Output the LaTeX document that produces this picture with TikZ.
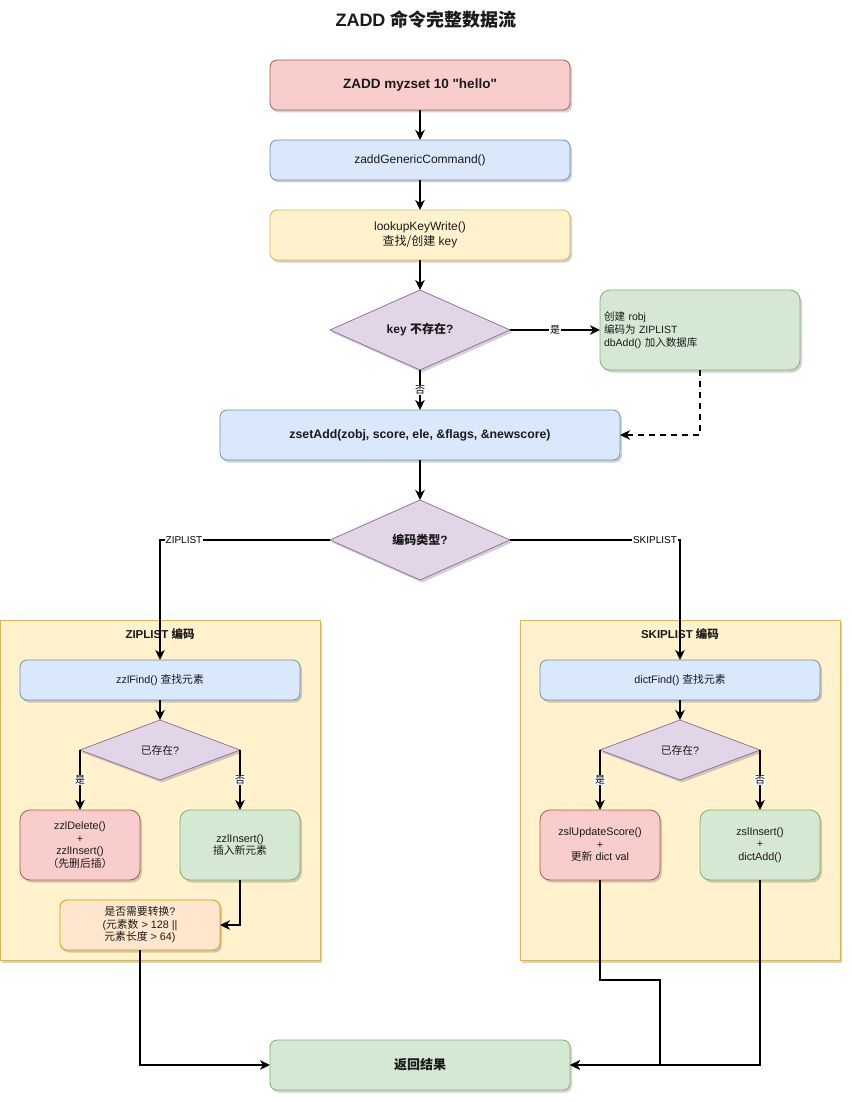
\documentclass[tikz,border=0pt]{standalone}
\usepackage{fontspec}
\setmainfont{Liberation Sans}
\newfontfamily\cjk{Noto Sans CJK SC}
\newcommand\zh[1]{{\cjk #1}}
\usetikzlibrary{arrows.meta,shadows,shapes.geometric}
\definecolor{redF}{HTML}{F8CECC}\definecolor{redS}{HTML}{B85450}
\definecolor{bluF}{HTML}{DAE8FC}\definecolor{bluS}{HTML}{6C8EBF}
\definecolor{yelF}{HTML}{FFF2CC}\definecolor{yelS}{HTML}{D6B656}
\definecolor{purF}{HTML}{E1D5E7}\definecolor{purS}{HTML}{9673A6}
\definecolor{grnF}{HTML}{D5E8D4}\definecolor{grnS}{HTML}{82B366}
\definecolor{orgF}{HTML}{FFE6CC}\definecolor{orgS}{HTML}{D79B00}
\definecolor{txt}{HTML}{1A1A1A}
\begin{document}
\begin{tikzpicture}[x=1pt,y=-1pt,
  shad/.style={drop shadow={shadow xshift=2pt,shadow yshift=-2.5pt,opacity=0.18,fill=black}},
  box/.style={draw, rounded corners=7pt, inner sep=2pt, outer sep=0pt, align=center, line width=0.8pt, text=txt, shad},
  bigtxt/.style={font=\fontsize{12}{14.5}\selectfont},
  smtxt/.style={font=\fontsize{10.8}{12.5}\selectfont},
  red/.style={box, fill=redF, draw=redS},
  blu/.style={box, fill=bluF, draw=bluS},
  yel/.style={box, fill=yelF, draw=yelS},
  grn/.style={box, fill=grnF, draw=grnS},
  org/.style={box, fill=orgF, draw=orgS},
  dia/.style={diamond, draw=purS, fill=purF, line width=0.8pt, inner sep=0pt, outer sep=0pt, align=center, text=txt, shad},
  cont/.style={draw=yelS, fill=yelF, line width=0.8pt, inner sep=0pt, outer sep=0pt, minimum width=320, minimum height=340, shad},
  arr/.style={draw=black, line width=1.9pt, -{Stealth[length=10pt,width=9.5pt,inset=3pt]}},
  lbl/.style={fill=white, inner sep=1pt, font=\fontsize{10}{12}\selectfont, text=black}
]
\useasboundingbox (0,0) rectangle (852,1102);

% title
\node[font=\bfseries\fontsize{18}{21}\selectfont, text=txt] (title) at (426,20) {ZADD \zh{命令完整数据流}};

% main column
\node[red, font=\bfseries\fontsize{13.5}{16}\selectfont, minimum width=300, minimum height=50] (n1) at (420,85) {ZADD myzset 10 \textquotedbl hello\textquotedbl};
\node[blu, bigtxt, minimum width=300, minimum height=40] (n2) at (420,160) {zaddGenericCommand()};
\node[yel, bigtxt, minimum width=300, minimum height=50] (n3) at (420,235) {lookupKeyWrite()\\\zh{查找/创建} key};
\node[dia, font=\bfseries\fontsize{12}{14.5}\selectfont, minimum width=180, minimum height=80] (d1) at (420,330) {key \zh{不存在}?};
\node[grn, font=\fontsize{10.5}{13}\selectfont, align=left, text width=192, inner xsep=4pt, minimum width=200, minimum height=80, rounded corners=10pt] (g1) at (700,330) {\zh{创建} robj\\\zh{编码为} ZIPLIST\\dbAdd() \zh{加入数据库}};
\node[blu, font=\bfseries\fontsize{12.3}{14.5}\selectfont, minimum width=400, minimum height=50] (zs) at (420,435) {zsetAdd(zobj, score, ele, \&flags, \&newscore)};
\node[dia, font=\bfseries\fontsize{12}{14.5}\selectfont, minimum width=180, minimum height=80] (d2) at (420,540) {\zh{编码类型}?};

% containers
\node[cont] (cz) at (160,790) {};
\node[cont] (cs) at (680,790) {};
\node[font=\bfseries\fontsize{11.5}{13}\selectfont, text=txt] (czt) at (160,634) {ZIPLIST \zh{编码}};
\node[font=\bfseries\fontsize{11.5}{13}\selectfont, text=txt] (cst) at (680,634) {SKIPLIST \zh{编码}};

% ziplist branch
\node[blu, smtxt, minimum width=280, minimum height=40] (zf) at (160,680) {zzlFind() \zh{查找元素}};
\node[dia, smtxt, minimum width=160, minimum height=60] (ez) at (160,750) {\zh{已存在}?};
\node[red, smtxt, minimum width=120, minimum height=70, rounded corners=10pt] (zd) at (80,845) {zzlDelete()\\+\\zzlInsert()\\\zh{（先删后插）}};
\node[grn, smtxt, minimum width=120, minimum height=70, rounded corners=10pt] (zi) at (240,845) {zzlInsert()\\\zh{插入新元素}};
\node[org, smtxt, minimum width=160, minimum height=50] (cv) at (140,925) {\zh{是否需要转换}?\\(\zh{元素数} > 128 ||\\\zh{元素长度} > 64)};

% skiplist branch
\node[blu, smtxt, minimum width=280, minimum height=40] (df) at (680,680) {dictFind() \zh{查找元素}};
\node[dia, smtxt, minimum width=160, minimum height=60] (es) at (680,750) {\zh{已存在}?};
\node[red, smtxt, minimum width=120, minimum height=70, rounded corners=10pt] (su) at (600,845) {zslUpdateScore()\\+\\\zh{更新} dict val};
\node[grn, smtxt, minimum width=120, minimum height=70, rounded corners=10pt] (sl) at (760,845) {zslInsert()\\+\\dictAdd()};

% result
\node[grn, font=\bfseries\fontsize{13}{15}\selectfont, minimum width=300, minimum height=50] (ret) at (420,1065) {\zh{返回结果}};

\coordinate (c1) at (660,980);

% edges
\draw[arr] (n1.south) -- (n2.north);
\draw[arr] (n2.south) -- (n3.north);
\draw[arr] (n3.south) -- (d1.north);
\draw[arr] (d1.east) -- node[lbl] {\zh{是}} (g1.west);
\draw[arr] (d1.south) -- node[lbl] {\zh{否}} (zs.north);
\draw[arr, dashed, dash pattern=on 6pt off 5pt] (g1.south) |- (zs.east);
\draw[arr] (zs.south) -- (d2.north);
\draw[arr] (d2.west) -| (zf.north);
\draw[arr] (d2.east) -| (df.north);
\node[lbl] (lz) at (184,540) {ZIPLIST};
\node[lbl] (ls) at (655,540) {SKIPLIST};

\draw[arr] (zf.south) -- (ez.north);
\draw[arr] (ez.west) -- node[lbl] {\zh{是}} (zd.north);
\draw[arr] (ez.east) -- node[lbl] {\zh{否}} (zi.north);
\draw[arr] (zi.south) |- (cv.east);
\draw[arr] (cv.south) |- (ret.west);

\draw[arr] (df.south) -- (es.north);
\draw[arr] (es.west) -- node[lbl] {\zh{是}} (su.north);
\draw[arr] (es.east) -- node[lbl] {\zh{否}} (sl.north);
\draw[arr] (su.south) |- (c1) |- (ret.east);
\draw[arr] (sl.south) |- (ret.east);
\end{tikzpicture}
\end{document}
